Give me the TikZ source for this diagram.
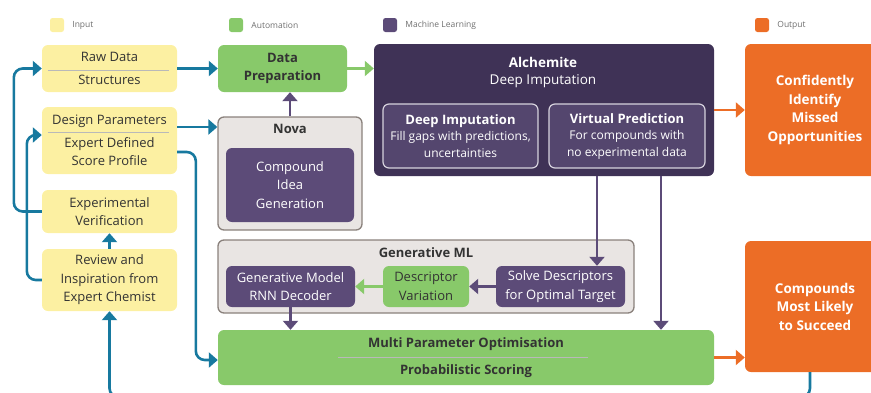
\documentclass[tikz,border=0pt]{standalone}
\usepackage{fontspec}
\setmainfont{Open Sans}
\usepackage{tikz}
\usetikzlibrary{positioning,arrows.meta}

\definecolor{inyellow}{HTML}{FCF0A2}
\definecolor{autogreen}{HTML}{88C96A}
\definecolor{mldark}{HTML}{3F3256}
\definecolor{mlinner}{HTML}{54466E}
\definecolor{mlpurple}{HTML}{5C4B78}
\definecolor{outorange}{HTML}{EC6D26}
\definecolor{flowblue}{HTML}{17799F}
\definecolor{grpgray}{HTML}{E9E5E3}
\definecolor{grpedge}{HTML}{8A817C}
\definecolor{txtdark}{HTML}{333333}
\definecolor{legtext}{HTML}{6F6F6F}

\begin{document}
\begin{tikzpicture}[x=1pt, y=-1pt, node distance=4pt,
    base/.style={rounded corners=6pt, align=center, inner sep=0pt},
    inbox/.style={base, fill=inyellow, text=txtdark, minimum width=135pt,
      font=\fontsize{13}{18.5}\selectfont},
    autobox/.style={base, fill=autogreen, text=txtdark, font=\fontsize{13}{18.5}\selectfont},
    mlbox/.style={base, fill=mlpurple, text=white, font=\fontsize{13}{18.5}\selectfont},
    subbox/.style={base, fill=mlinner, draw=white!75!mlpurple, line width=1.2pt, text=white,
      font=\fontsize{12}{16.5}\selectfont},
    outbox/.style={base, fill=outorange, text=white, minimum width=140pt,
      font=\bfseries\fontsize{13.5}{18.5}\selectfont},
    grpbox/.style={base, fill=grpgray, draw=grpedge, line width=1.3pt},
    title/.style={text=txtdark, font=\bfseries\fontsize{13}{16}\selectfont},
    divline/.style={draw=gray!55, line width=0.6pt},
    legsq/.style={rounded corners=2.5pt, minimum size=14pt, inner sep=0pt},
    legtxt/.style={text=legtext, font=\fontsize{8.5}{10}\selectfont, inner sep=0pt},
    flow/.style={line width=2.6pt, -{Triangle[length=9pt, width=15pt]}},
    blueflow/.style={flow, draw=flowblue, rounded corners=9pt},
    purpflow/.style={flow, draw=mlpurple, line width=2.2pt},
    greenflow/.style={flow, draw=autogreen},
    orangeflow/.style={flow, draw=outorange}]
  \clip (0,0) rectangle (871,392);

  % legend
  \node[legsq, fill=inyellow] (leginput) at (57,25) {};
  \node[legtxt, right=8pt of leginput] (leginputtxt) {Input};
  \node[legsq, fill=autogreen] (legauto) at (236,25) {};
  \node[legtxt, right=8pt of legauto] (legautotxt) {Automation};
  \node[legsq, fill=mlpurple] (legml) at (390,25) {};
  \node[legtxt, right=8pt of legml] (legmltxt) {Machine Learning};
  \node[legsq, fill=outorange] (legout) at (762,25) {};
  \node[legtxt, right=8pt of legout] (legouttxt) {Output};

  % inputs
  \node[inbox, minimum height=47pt, font=\fontsize{13}{23}\selectfont] (raw) at (109.5,68.5) {Raw Data\\Structures};
  \draw[divline] ([xshift=6pt,yshift=-1.5pt]raw.west) -- ([xshift=-8pt,yshift=-1.5pt]raw.east);
  \node[inbox, minimum height=67pt] (design) at (109.5,140.5) {Design Parameters\\[4.5pt]Expert Defined\\Score Profile};
  \draw[divline] ([xshift=6pt,yshift=8.5pt]design.west) -- ([xshift=-8pt,yshift=8.5pt]design.east);
  \node[inbox, minimum height=43pt] (exper) at (109.5,211.5) {Experimental\\Verification};
  \node[inbox, minimum height=62pt] (review) at (109.5,280) {Review and\\Inspiration from\\Expert Chemist};

  % automation and ML
  \node[autobox, minimum width=129pt, minimum height=47pt, font=\bfseries\fontsize{13}{18.5}\selectfont] (prep) at (282.5,68.5) {Data\\Preparation};
  \node[grpbox, minimum width=144pt, minimum height=113pt] (nova) at (290,173.5) {};
  \node[title] (novatitle) at (290,129) {Nova};
  \node[mlbox, minimum width=128pt, minimum height=74pt] (idea) at (290,185) {Compound\\Idea\\Generation};

  \node[base, fill=mldark, minimum width=340pt, minimum height=132pt] (alch) at (544,110) {};
  \node[text=white, font=\bfseries\fontsize{13.5}{16}\selectfont] (alchtitle) at (543,62) {Alchemite};
  \node[text=white, font=\fontsize{13.5}{16}\selectfont] (alchsub) at (543,81) {Deep Imputation};
  \node[subbox, minimum width=155pt, minimum height=64pt] (deepimp) at (460.5,136) {\textbf{\fontsize{13}{16.5}\selectfont Deep Imputation}\\Fill gaps with predictions,\\uncertainties};
  \node[subbox, minimum width=156pt, minimum height=64pt] (virtual) at (627,136) {\textbf{\fontsize{13}{16.5}\selectfont Virtual Prediction}\\For compounds with\\no experimental data};

  \node[grpbox, minimum width=416pt, minimum height=73pt] (genml) at (426,276.5) {};
  \node[title] (genmltitle) at (426,253) {Generative ML};
  \node[mlbox, minimum width=129pt, minimum height=41pt] (genmodel) at (290.5,286.5) {Generative Model\\RNN Decoder};
  \node[autobox, minimum width=86pt, minimum height=41pt] (descvar) at (426,286.5) {Descriptor\\Variation};
  \node[mlbox, minimum width=129pt, minimum height=41pt] (solve) at (560.5,286.5) {Solve Descriptors\\for Optimal Target};

  \node[autobox, minimum width=496pt, minimum height=55pt, font=\bfseries\fontsize{13}{27}\selectfont] (mpo) at (466,357.5) {Multi Parameter Optimisation\\Probabilistic Scoring};
  \draw[divline] ([xshift=-128pt]mpo.center) -- ([xshift=122pt]mpo.center);

  % outputs
  \node[outbox, minimum height=132pt] (out1) at (815,110) {Confidently\\Identify\\Missed\\Opportunities};
  \node[outbox, minimum height=131pt] (out2) at (815,306.5) {Compounds\\Most Likely\\to Succeed};

  % connectors
  \draw[blueflow] (raw) -- (prep);
  \draw[blueflow] ([yshift=13.5pt]design.east) -- ([yshift=13.5pt]design.east -| nova.west);
  \draw[purpflow] (nova.north) -- (nova.north |- prep.south);
  \draw[greenflow] (prep.east) -- (prep.east -| alch.west);
  \draw[orangeflow] (alch) -- (out1);
  \draw[purpflow] ([xshift=36.5pt]solve.north |- alch.south) -- ([xshift=36.5pt]solve.north);
  \draw[purpflow] ([xshift=117pt]alch.south) -- ([xshift=117pt]alch.south |- mpo.north);
  \draw[purpflow] (solve) -- (descvar);
  \draw[greenflow] (descvar) -- (genmodel);
  \draw[purpflow] (genmodel.south) -- (genmodel.south |- mpo.north);
  \draw[orangeflow] (mpo.east) -- (mpo.east -| out2.west);
  \draw[blueflow] ([yshift=-11.5pt]design.east) -| ([xshift=-22pt,yshift=-2.5pt]mpo.west) -- ([yshift=-2.5pt]mpo.west);
  \draw[blueflow] (exper.west) -| ([xshift=-28pt]raw.west) -- (raw.west);
  \draw[blueflow] (review.west) -| ([xshift=-15pt,yshift=5.5pt]design.west) -- ([yshift=5.5pt]design.west);
  \draw[blueflow] (review) -- (exper);
  \draw[blueflow] ([xshift=-5pt]out2.south) |- ([yshift=-86pt]review.south) -- (review.south);
\end{tikzpicture}
\end{document}
